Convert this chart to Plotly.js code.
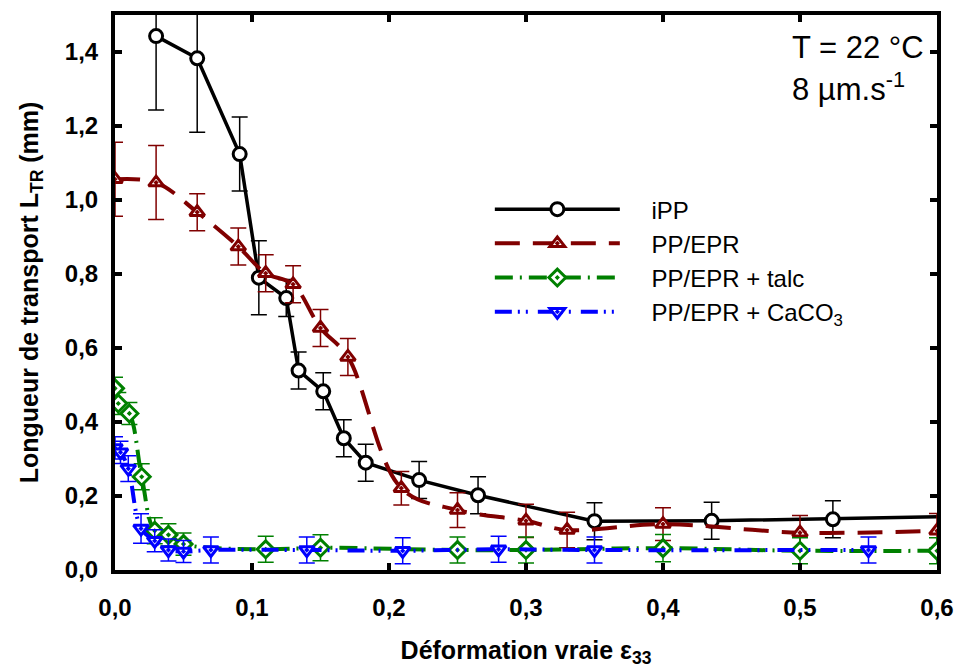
<!DOCTYPE html>
<html>
<head>
<meta charset="utf-8">
<script src="https://cdn.plot.ly/plotly-3.0.1.min.js"></script>
<style>html,body{margin:0;padding:0;background:#fff;}#chart{width:960px;height:668px;}</style>
</head>
<body>
<div id="chart"></div>
<script>
// iPP
const ippX   = [0.03, 0.06, 0.091, 0.105, 0.125, 0.134, 0.152, 0.167, 0.183, 0.222, 0.265, 0.35, 0.4355, 0.524, 0.65];
const ippY   = [1.443, 1.383, 1.124, 0.79, 0.735, 0.539, 0.483, 0.356, 0.29, 0.243, 0.202, 0.132, 0.133, 0.137, 0.147];
const ippErr = [0.2, 0.2, 0.1, 0.1, 0.05, 0.05, 0.05, 0.05, 0.05, 0.05, 0.05, 0.05, 0.05, 0.05, 0.05];
// PP/EPR
const eprX   = [0, 0.03, 0.06, 0.09, 0.11, 0.13, 0.15, 0.17, 0.209, 0.25, 0.30, 0.33, 0.40, 0.50, 0.60];
const eprY   = [1.056, 1.047, 0.967, 0.874, 0.802, 0.772, 0.654, 0.576, 0.221, 0.162, 0.133, 0.108, 0.124, 0.101, 0.106];
const eprErr = [0.1, 0.1, 0.05, 0.05, 0.05, 0.05, 0.05, 0.05, 0.045, 0.047, 0.045, 0.048, 0.044, 0.046, 0.047];
// PP/EPR + talc
const talcX   = [0, 0.0024, 0.0105, 0.0195, 0.029, 0.039, 0.05, 0.11, 0.15, 0.25, 0.30, 0.40, 0.50, 0.60];
const talcY   = [0.491, 0.45, 0.423, 0.252, 0.106, 0.095, 0.07, 0.056, 0.06, 0.054, 0.054, 0.059, 0.052, 0.052];
const talcErr = [0.03, 0.03, 0.03, 0.035, 0.035, 0.03, 0.03, 0.035, 0.035, 0.035, 0.035, 0.037, 0.035, 0.035];
// PP/EPR + CaCO3
const cacoX   = [0, 0.004, 0.0097, 0.019, 0.029, 0.039, 0.05, 0.07, 0.14, 0.21, 0.28, 0.35, 0.55];
const cacoY   = [0.33, 0.318, 0.274, 0.112, 0.079, 0.054, 0.05, 0.054, 0.054, 0.052, 0.056, 0.054, 0.054];
const cacoErr = [0.03, 0.03, 0.035, 0.04, 0.03, 0.03, 0.03, 0.035, 0.035, 0.035, 0.035, 0.035, 0.035];

const seriesNames = ['iPP', 'PP/EPR', 'PP/EPR + talc', 'PP/EPR + CaCO<sub>3</sub>'];
const xTitle = 'Déformation vraie ε<sub>33</sub>';
const yTitle = 'Longueur de transport L<sub>TR</sub> (mm)';
const noteLines = ['T = 22 °C', '8 µm.s<sup>-1</sup>'];

const FONT = 'Arial, "Liberation Sans", sans-serif';
const PAD = '\u00a0\u00a0\u00a0\u00a0';

function err(arr, color, w) {
  return {type: 'data', array: arr, visible: true, color: color, thickness: 1.5, width: w};
}

const traces = [
  {
    x: ippX, y: ippY, name: PAD + seriesNames[0], mode: 'lines+markers', type: 'scatter',
    line: {color: '#000000', width: 3.5},
    marker: {symbol: 'circle', size: 13, color: '#ffffff', line: {color: '#000000', width: 3}},
    error_y: err(ippErr, '#000000', 8)
  },
  {
    x: eprX, y: eprY, name: PAD + seriesNames[1], mode: 'lines+markers', type: 'scatter',
    line: {color: '#800000', width: 4, dash: '25px,13px', shape: 'spline', smoothing: 1},
    marker: {symbol: 'triangle-up-dot', size: 13, color: '#ffffff', line: {color: '#800000', width: 3}},
    error_y: err(eprErr, '#800000', 8)
  },
  {
    x: talcX, y: talcY, name: PAD + seriesNames[2], mode: 'lines+markers', type: 'scatter',
    line: {color: '#008000', width: 4, dash: '18px,7px,2px,7px', shape: 'spline', smoothing: 1},
    marker: {symbol: 'diamond-dot', size: 13, color: '#ffffff', line: {color: '#008000', width: 3}},
    error_y: err(talcErr, '#008000', 8)
  },
  {
    x: cacoX, y: cacoY, name: PAD + seriesNames[3], mode: 'lines+markers', type: 'scatter',
    line: {color: '#0000ff', width: 4, dash: '17px,6px,2px,6px,2px,10px', shape: 'spline', smoothing: 1},
    marker: {symbol: 'triangle-down-dot', size: 13, color: '#ffffff', line: {color: '#0000ff', width: 3}},
    error_y: err(cacoErr, '#0000ff', 8)
  }
];

const axisCommon = {
  showline: true, linewidth: 4, linecolor: '#000', mirror: 'ticks',
  ticks: 'inside', ticklen: 7, tickwidth: 4, tickcolor: '#000',
  showgrid: false, zeroline: false,
  tickfont: {family: FONT, size: 24, color: '#000', weight: 'bold'},
  tickformat: '.1f'
};

const layout = {
  width: 960, height: 668,
  margin: {l: 115, r: 23, t: 15, b: 98},
  paper_bgcolor: '#fff', plot_bgcolor: '#fff',
  separators: ', ',
  showlegend: true,
  font: {family: FONT, color: '#000'},
  xaxis: Object.assign({}, axisCommon, {
    range: [0, 0.6], dtick: 0.1, tick0: 0,
    ticklabelstandoff: 13,
    title: {text: '<b>' + xTitle + '</b>', font: {family: FONT, size: 25, color: '#000'}, standoff: 24}
  }),
  yaxis: Object.assign({}, axisCommon, {
    range: [0, 1.5], dtick: 0.2, tick0: 0,
    ticklabelstandoff: 8,
    title: {text: '<b>' + yTitle + '</b>', font: {family: FONT, size: 25, color: '#000'}, standoff: 20}
  }),
  legend: {
    x: 0.456, xanchor: 'left', y: 0.69, yanchor: 'top',
    bgcolor: 'rgba(0,0,0,0)', borderwidth: 0,
    itemwidth: 125,
    font: {family: FONT, size: 24, color: '#000'},
    tracegroupgap: 0
  },
  annotations: [
    {xref: 'paper', yref: 'paper', x: 0.821, y: 0.942, xanchor: 'left', yanchor: 'middle',
     text: noteLines[0], showarrow: false, font: {family: FONT, size: 31, color: '#000'}},
    {xref: 'paper', yref: 'paper', x: 0.821, y: 0.87, xanchor: 'left', yanchor: 'middle',
     text: noteLines[1], showarrow: false, font: {family: FONT, size: 31, color: '#000'}}
  ]
};

Plotly.newPlot('chart', traces, layout, {displayModeBar: false, staticPlot: true});
</script>
</body>
</html>
